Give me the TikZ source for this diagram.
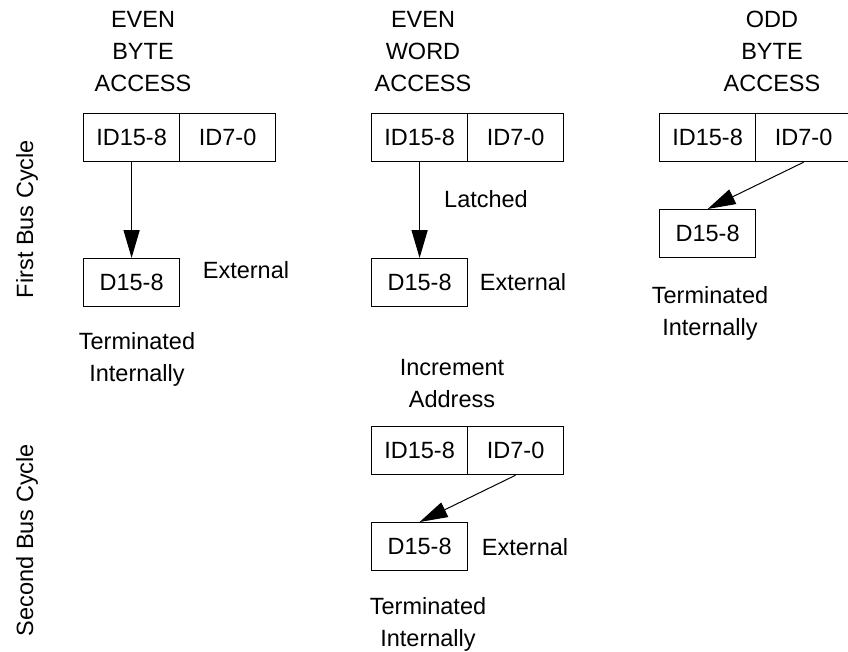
\documentclass[tikz,border=0pt]{standalone}
\usepackage{fontspec}
\setmainfont{Liberation Sans}
\usetikzlibrary{arrows.meta}
\begin{document}
\begin{tikzpicture}[x=1pt,y=-1pt,
  every node/.style={font=\fontsize{23.5}{32}\selectfont},
  cell/.style={draw, line width=1.2pt, minimum width=96pt, minimum height=48pt, inner sep=0pt, anchor=north west},
  lbl/.style={inner sep=0pt, anchor=base, align=center},
  side/.style={inner sep=0pt, anchor=base, rotate=90},
  vflow/.style={line width=1.5pt, -{Triangle[length=28pt,width=16pt]}},
  sflow/.style={line width=1pt, -{Triangle[length=28pt,width=16pt]}},
]
\useasboundingbox (0,0) rectangle (848,651);
% headers (anchor = baseline of last line)
\node[lbl] (h1) at (143,91) {EVEN\\BYTE\\ACCESS};
\node[lbl] (h2) at (423,91) {EVEN\\WORD\\ACCESS};
\node[lbl] (h3) at (772,91) {ODD\\BYTE\\ACCESS};
% side labels
\node[side] (s1) at (33,219) {First Bus Cycle};
\node[side] (s2) at (33,540) {Second Bus Cycle};
% column 1
\node[cell] (a1) at (83,113) {ID15-8};
\node[cell] (b1) at (179,113) {ID7-0};
\node[cell] (d1) at (83,258) {D15-8};
\node[lbl] (e1) at (246,278) {External};
\node[lbl] (t1) at (137,381) {Terminated\\Internally};
\draw[vflow] (a1.south) -- (d1.north);
% column 2
\node[cell] (a2) at (371,113) {ID15-8};
\node[cell] (b2) at (467,113) {ID7-0};
\node[cell] (d2) at (371,258) {D15-8};
\node[lbl] (l2) at (486,207) {Latched};
\node[lbl] (e2) at (523,290) {External};
\draw[vflow] (a2.south) -- (d2.north);
\node[lbl] (i2) at (452,407) {Increment\\Address};
\node[cell] (a4) at (371,426) {ID15-8};
\node[cell] (b4) at (467,426) {ID7-0};
\node[cell] (d4) at (371,522) {D15-8};
\node[lbl] (e4) at (525,555) {External};
\node[lbl] (t4) at (428,646) {Terminated\\Internally};
\draw[sflow] (b4.south) -- (d4.north);
% column 3
\node[cell] (a3) at (659,113) {ID15-8};
\node[cell] (b3) at (755,113) {ID7-0};
\node[cell] (d3) at (659,209) {D15-8};
\node[lbl] (t3) at (710,335) {Terminated\\Internally};
\draw[sflow] (b3.south) -- (d3.north);
\end{tikzpicture}
\end{document}
